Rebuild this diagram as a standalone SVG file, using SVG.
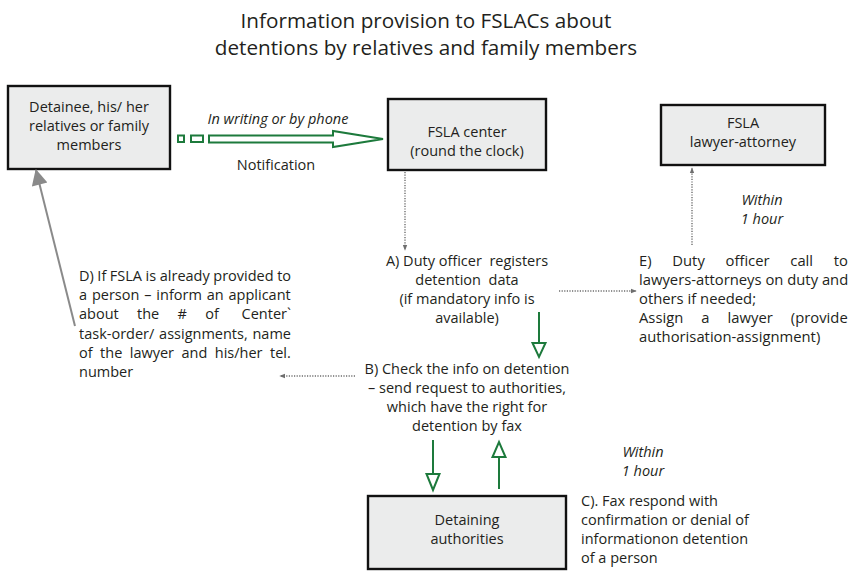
<svg xmlns="http://www.w3.org/2000/svg" width="851" height="571" viewBox="0 0 851 571">
  <defs>
    <marker id="dotHead" viewBox="0 0 8 8" refX="7" refY="4" markerWidth="6" markerHeight="6" orient="auto" markerUnits="userSpaceOnUse">
      <path d="M0,1 L8,4 L0,7 Z" fill="#6e6e6e"/>
    </marker>
    <marker id="grayHead" viewBox="0 0 16 16" refX="15" refY="8" markerWidth="18" markerHeight="16" orient="auto" markerUnits="userSpaceOnUse">
      <path d="M0,0 L16,8 L0,16 Z" fill="#8a8a8a"/>
    </marker>
  </defs>
  <style>
    text { font-family: "Open Sans", "Noto Sans", "Liberation Sans", sans-serif; font-size: 14.5px; fill: #231f20; }
    .title { font-size: 20.7px; text-anchor: middle; }
    .c { text-anchor: middle; }
    .e { text-anchor: end; }
    .it { font-style: italic; }
    #step-e text { font-size: 14.8px; }
    .box { fill: #ebecec; stroke: #111; stroke-width: 2.4; }
    .dot { fill: none; stroke: #6e6e6e; stroke-width: 1.4; stroke-dasharray: 1.2 1.4; }
    .green { fill: none; stroke: #1d7a3c; stroke-width: 2; }
    .greenHead { fill: #ffffff; stroke: #1d7a3c; stroke-width: 2; stroke-linejoin: miter; }
  </style>

  <rect width="851" height="571" fill="#ffffff"/>

  <!-- heading -->
  <text class="title" x="426" y="28">Information provision to FSLACs about</text>
  <text class="title" x="426" y="55">detentions by relatives and family members</text>

  <!-- nodes -->
  <g id="applicant">
    <rect class="box" x="8" y="86" width="162" height="83"/>
    <text class="c" x="89" y="112">Detainee, his/ her</text>
    <text class="c" x="89" y="131">relatives or family</text>
    <text class="c" x="89" y="150">members</text>
  </g>

  <g id="fsla-center">
    <rect class="box" x="388" y="99" width="158" height="71"/>
    <text class="c" x="467" y="137">FSLA center</text>
    <text class="c" x="467" y="156">(round the clock)</text>
  </g>

  <g id="lawyer">
    <rect class="box" x="661" y="105" width="164" height="60"/>
    <text class="c" x="743" y="128">FSLA</text>
    <text class="c" x="743" y="147">lawyer-attorney</text>
  </g>

  <g id="authorities">
    <rect class="box" x="368" y="496" width="198" height="73"/>
    <text class="c" x="467" y="525">Detaining</text>
    <text class="c" x="467" y="544">authorities</text>
  </g>

  <g id="step-a">
    <text class="c" x="467" y="266" xml:space="preserve">A) Duty officer  registers</text>
    <text class="c" x="467" y="285" xml:space="preserve">detention  data</text>
    <text class="c" x="467" y="304">(if mandatory info is</text>
    <text class="c" x="467" y="323">available)</text>
  </g>

  <g id="step-b">
    <text class="c" x="467" y="374">B) Check the info on detention</text>
    <text class="c" x="467" y="393">– send request to authorities,</text>
    <text class="c" x="467" y="412">which have the right for</text>
    <text class="c" x="467" y="431">detention by fax</text>
  </g>

  <g id="step-c">
    <text x="581" y="506">C). Fax respond with</text>
    <text x="581" y="525">confirmation or denial of</text>
    <text x="581" y="544">informationon detention</text>
    <text x="581" y="563">of a person</text>
  </g>

  <g id="step-d">
    <text x="79" y="281" word-spacing="-0.2">D) If FSLA is already provided to</text>
    <text x="79" y="300" word-spacing="1.1">a person – inform an applicant</text>
    <text x="79" y="319">about</text>
    <text x="137" y="319">the</text>
    <text x="177.6" y="319">#</text>
    <text x="205.3" y="319">of</text>
    <text class="e" x="291" y="319">Center`</text>
    <text x="79" y="339" word-spacing="1">task-order/ assignments, name</text>
    <text x="79" y="358" word-spacing="3.7">of the lawyer and his/her tel.</text>
    <text x="79" y="377">number</text>
  </g>

  <g id="step-e">
    <text x="639" y="266">E)</text>
    <text x="672.3" y="266">Duty</text>
    <text x="725.5" y="266">officer</text>
    <text x="790.3" y="266">call</text>
    <text class="e" x="848" y="266">to</text>
    <text x="639" y="285">lawyers-attorneys on duty and</text>
    <text x="639" y="304">others if needed;</text>
    <text x="639" y="323" word-spacing="14.2">Assign a lawyer (provide</text>
    <text x="639" y="342">authorisation-assignment)</text>
  </g>

  <g id="notes">
    <text class="c it" x="278" y="124">In writing or by phone</text>
    <text class="c" x="276" y="170">Notification</text>
    <text class="c it" x="762" y="205">Within</text>
    <text class="c it" x="762" y="224">1 hour</text>
    <text class="c it" x="643" y="457">Within</text>
    <text class="c it" x="643" y="476">1 hour</text>
  </g>

  <!-- connectors -->
  <g id="connectors">
    <!-- notification: dashed block arrow -->
    <rect class="greenHead" x="178" y="135.5" width="6" height="6.5"/>
    <rect class="greenHead" x="191" y="135.5" width="12" height="6.5"/>
    <path class="greenHead" d="M209,135.5 H333 V131 L383,139 L333,147 V142.5 H209 Z"/>

    <!-- center to step A -->
    <line class="dot" x1="405" y1="172" x2="405" y2="250" marker-end="url(#dotHead)"/>
    <!-- step A to step E -->
    <line class="dot" x1="559" y1="291" x2="636" y2="291" marker-end="url(#dotHead)"/>
    <!-- step E up to lawyer -->
    <line class="dot" x1="692" y1="245" x2="692" y2="168" marker-end="url(#dotHead)"/>
    <!-- step B to step D -->
    <line class="dot" x1="355" y1="376" x2="280" y2="376" marker-end="url(#dotHead)"/>

    <!-- step D back to applicant -->
    <line x1="75" y1="326" x2="36" y2="170" stroke="#8a8a8a" stroke-width="2" marker-end="url(#grayHead)"/>

    <!-- step A to step B -->
    <line class="green" x1="539" y1="312" x2="539" y2="343"/>
    <path class="greenHead" d="M532.5,343 H545.5 L539,357 Z"/>

    <!-- step B to authorities -->
    <line class="green" x1="433" y1="440" x2="433" y2="474"/>
    <path class="greenHead" d="M426.5,474 H439.5 L433,490 Z"/>

    <!-- authorities back (step C) -->
    <line class="green" x1="499" y1="489" x2="499" y2="457"/>
    <path class="greenHead" d="M492.5,457 H505.5 L499,442 Z"/>
  </g>
</svg>
